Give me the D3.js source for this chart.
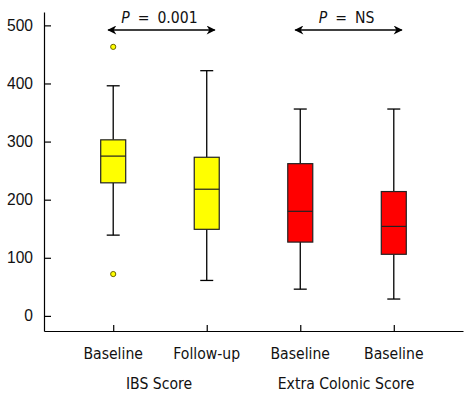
<!DOCTYPE html>
<html>
<head>
<meta charset="utf-8">
<script src="https://cdn.jsdelivr.net/npm/d3@7"></script>
<style>
  html, body { margin: 0; padding: 0; background: #fff; }
  svg { display: block; font-family: "DejaVu Sans Condensed", "DejaVu Sans", sans-serif; }
</style>
</head>
<body>
<div id="chart"></div>
<script>
// Box summaries: [min, q1, median, q3, max]
const categories = ['Baseline', 'Follow-up', 'Baseline', 'Baseline'];
const groups = [
  { label: 'IBS Score', from: 0, to: 1 },
  { label: 'Extra Colonic Score', from: 2, to: 3 }
];
const mins    = [139, 61, 46, 29];
const q1s     = [229, 149, 127, 106];
const medians = [275, 218, 180, 154];
const q3s     = [303, 273, 262, 214];
const maxs    = [396, 422, 356, 356];
const outliers = [[463, 72], [], [], []];
const fills = ['#ffff00', '#ffff00', '#ff0000', '#ff0000'];
const yTicks = [0, 100, 200, 300, 400, 500];
const pValues = [
  { text: '0.001', from: 0, to: 1 },
  { text: 'NS', from: 2, to: 3 }
];

const W = 470, H = 397;
const PLOT = { left: 44, right: 463, top: 12, bottom: 331 };
const FS = 15.6;

const svg = d3.select('#chart').append('svg').attr('width', W).attr('height', H);

const x = d3.scalePoint().domain(d3.range(categories.length))
  .range([PLOT.left, PLOT.right]).padding(0.74);
const y = d3.scaleLinear().domain([-26, 523]).range([PLOT.bottom, PLOT.top]);

// Axes — ticks point inward, as in the source figure.
svg.append('g').attr('transform', `translate(${PLOT.left},0)`)
  .call(d3.axisLeft(y).tickValues(yTicks).tickSize(-7).tickPadding(11).tickSizeOuter(0))
  .call((sel) => {
    sel.select('.domain').attr('stroke', '#000').attr('stroke-width', 1.2);
    sel.selectAll('line').attr('stroke', '#000').attr('stroke-width', 1.2);
    sel.selectAll('text').attr('fill', '#111').attr('font-size', FS);
  });
svg.append('g').attr('transform', `translate(0,${PLOT.bottom})`)
  .call(d3.axisBottom(x).tickSize(-6).tickSizeOuter(0).tickFormat(() => ''))
  .call((sel) => {
    sel.select('.domain').attr('stroke', '#000').attr('stroke-width', 1.2);
    sel.selectAll('line').attr('stroke', '#000').attr('stroke-width', 1.2);
  });

categories.forEach((c, i) => {
  svg.append('text').attr('x', x(i)).attr('y', 359).attr('text-anchor', 'middle')
    .attr('font-size', FS).attr('fill', '#111').text(c);
});
groups.forEach((g) => {
  svg.append('text').attr('x', (x(g.from) + x(g.to)) / 2 - 1).attr('y', 389)
    .attr('text-anchor', 'middle').attr('font-size', FS).attr('fill', '#111').text(g.label);
});

// Boxes
const boxW = 25, capW = 13;
categories.forEach((c, i) => {
  const cx = x(i);
  const g = svg.append('g');
  g.append('line').attr('x1', cx).attr('x2', cx).attr('y1', y(maxs[i])).attr('y2', y(q3s[i]))
    .attr('stroke', '#000').attr('stroke-width', 1.3);
  g.append('line').attr('x1', cx).attr('x2', cx).attr('y1', y(q1s[i])).attr('y2', y(mins[i]))
    .attr('stroke', '#000').attr('stroke-width', 1.3);
  [maxs[i], mins[i]].forEach((v) => {
    g.append('line').attr('x1', cx - capW / 2).attr('x2', cx + capW / 2)
      .attr('y1', y(v)).attr('y2', y(v)).attr('stroke', '#000').attr('stroke-width', 1.3);
  });
  g.append('rect').attr('x', cx - boxW / 2).attr('width', boxW)
    .attr('y', y(q3s[i])).attr('height', y(q1s[i]) - y(q3s[i]))
    .attr('fill', fills[i]).attr('stroke', '#222').attr('stroke-width', 1.2);
  g.append('line').attr('x1', cx - boxW / 2).attr('x2', cx + boxW / 2)
    .attr('y1', y(medians[i])).attr('y2', y(medians[i]))
    .attr('stroke', '#222').attr('stroke-width', 1.2);
  outliers[i].forEach((v) => {
    g.append('circle').attr('cx', cx).attr('cy', y(v)).attr('r', 2.6)
      .attr('fill', fills[i]).attr('stroke', '#6b6400').attr('stroke-width', 1);
  });
});

// P-value arrows
const defs = svg.append('defs');
defs.append('marker').attr('id', 'head').attr('viewBox', '0 0 10 10')
  .attr('refX', 9).attr('refY', 5).attr('markerWidth', 10).attr('markerHeight', 9)
  .attr('markerUnits', 'userSpaceOnUse').attr('orient', 'auto-start-reverse')
  .append('path').attr('d', 'M0,0 L10,5 L0,10 L3,5 Z').attr('fill', '#000');

pValues.forEach((p) => {
  const x1 = x(p.from) - 5, x2 = x(p.to) + 8;
  svg.append('line').attr('x1', x1).attr('x2', x2).attr('y1', 30).attr('y2', 30)
    .attr('stroke', '#000').attr('stroke-width', 1.3)
    .attr('marker-start', 'url(#head)').attr('marker-end', 'url(#head)');
  const t = svg.append('text').attr('x', (x1 + x2) / 2 - 2).attr('y', 23)
    .attr('text-anchor', 'middle').attr('font-size', FS).attr('fill', '#111')
    .attr('word-spacing', 3.5);
  t.append('tspan').attr('font-style', 'italic').text('P');
  t.append('tspan').text(` = ${p.text}`);
});
</script>
</body>
</html>
